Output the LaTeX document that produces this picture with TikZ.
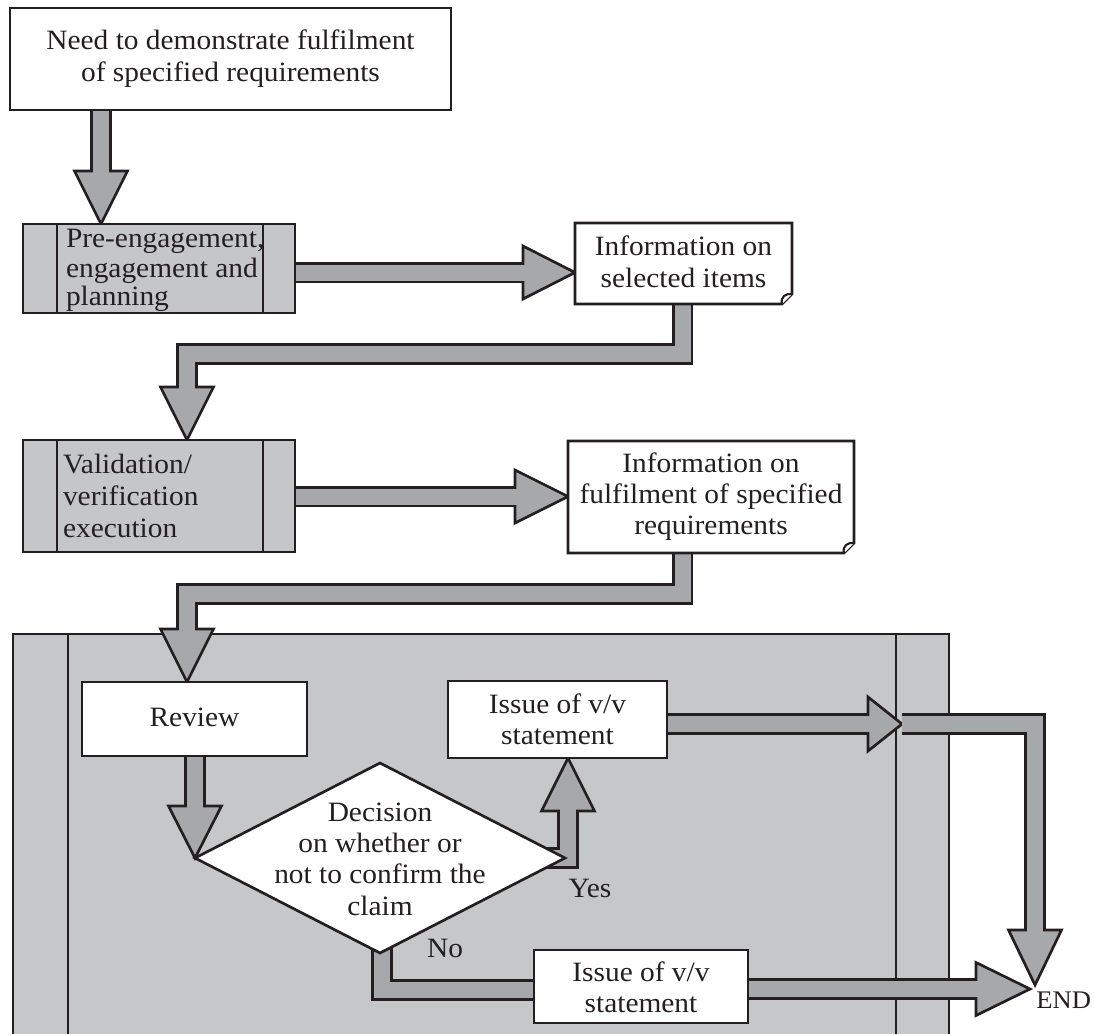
\documentclass[tikz,border=0pt]{standalone}
\usepackage{fontspec}
\setmainfont[FakeStretch=1.05]{Liberation Serif}
\usetikzlibrary{shapes.geometric,calc}
\pgfdeclarelayer{bglayer}
\pgfdeclarelayer{arrlayer}
\pgfsetlayers{bglayer,arrlayer,main}
\definecolor{bordc}{HTML}{231F20}
\definecolor{arrc}{HTML}{A7A8AB}
\definecolor{boxc}{HTML}{C5C6C8}
\definecolor{contc}{HTML}{C6C7C9}
\tikzset{
  every node/.style={inner sep=0pt, outer sep=0pt, text=bordc, font=\fontsize{21}{24}\selectfont},
  boxline/.style={draw=bordc, line width=2pt},
  wbox/.style={boxline, fill=white, rectangle},
  gbox/.style={boxline, fill=boxc, rectangle},
  plainbox/.style={rectangle},
  shout/.style={draw=bordc, line width=16pt},
  shin/.style={draw=arrc, line width=12pt},
  headst/.style={draw=bordc, fill=arrc, line width=2pt, line join=miter},
  txt/.style={anchor=base},
  txtl/.style={anchor=base west}
}
\newcommand\rbox[6]{\node[#1, minimum width={(#5-#3)*0.75pt}, minimum height={(#6-#4)*0.75pt}] (#2) at ({(#3+#5)/2},{(#4+#6)/2}) {};}
\begin{document}
\begin{tikzpicture}[x=0.75pt,y=-0.75pt]
\useasboundingbox (0,0) rectangle (1094,1034);
% ---------- nodes ----------
\rbox{plainbox}{stage}{13}{634}{949}{1034}
\rbox{wbox}{need}{10}{8}{451}{110}
\rbox{gbox}{pre}{23}{224}{295}{313}
\rbox{plainbox}{info1}{575}{223}{792}{304}
\rbox{gbox}{valid}{23}{440}{295}{552}
\rbox{plainbox}{info2}{568}{441}{854}{553}
\rbox{wbox}{review}{82}{682}{307}{756}
\rbox{wbox}{issue1}{448}{681}{667}{758}
\rbox{wbox}{issue2}{534}{950}{748}{1023}
\node[diamond, boxline, fill=white, minimum width=277.5pt, minimum height=142.5pt] (dec) at (380,858) {};
\coordinate (j1) at (902,724);
\coordinate (endA) at (1035,985);
\coordinate (endB) at (1030,989);
% inner lines of process boxes
\draw[boxline] ($(pre.north west)+(34,0)$) -- ($(pre.south west)+(34,0)$);
\draw[boxline] ($(pre.north east)+(-32,0)$) -- ($(pre.south east)+(-32,0)$);
\draw[boxline] ($(valid.north west)+(34,0)$) -- ($(valid.south west)+(34,0)$);
\draw[boxline] ($(valid.north east)+(-32,0)$) -- ($(valid.south east)+(-32,0)$);
% document boxes with folded corner
\foreach \b in {info1,info2}{
  \draw[boxline, fill=white] (\b.north west) -- (\b.north east) -- ($(\b.south east)+(0,-10)$) -- ($(\b.south east)+(-10,0)$) -- (\b.south west) -- cycle;
  \draw[draw=bordc, line width=1.6pt, fill=white] ($(\b.south east)+(-10,0)$) .. controls ($(\b.south east)+(-12,-7)$) and ($(\b.south east)+(-6,-11)$) .. ($(\b.south east)+(0,-10)$);
}
% ---------- background ----------
\begin{pgfonlayer}{bglayer}
\fill[white] (0,0) rectangle (1094,1034);
\fill[contc] (stage.north west) rectangle (stage.south east);
\draw[boxline] (stage.south west) -- (stage.north west) -- (stage.north east) -- (stage.south east);
\draw[boxline] ($(stage.north west)+(55,0)$) -- ($(stage.south west)+(55,0)$);
\draw[boxline] ($(stage.north east)+(-53,0)$) -- ($(stage.south east)+(-53,0)$);
\end{pgfonlayer}
% ---------- block arrows ----------
\begin{pgfonlayer}{arrlayer}
% need -> pre
\draw[shout] (need.south -| 101,0) -- (101,171);
\draw[headst] (pre.north -| 101,0) -- ++(-26.5,-53) -- ++(53,0) -- cycle;
\draw[shin] (need.south -| 101,0) -- (101,174);
% pre -> info1
\draw[shout] (pre.east |- 0,272.5) -- (523,272.5);
\draw[headst] (info1.west |- 0,272.5) -- ++(-52,-26.5) -- ++(0,53) -- cycle;
\draw[shin] (pre.east |- 0,272.5) -- (526,272.5);
% info1 -> valid
\draw[shout] (info1.south -| 682.5,0) -- (682.5,354) -- (187,354) -- (187,387);
\draw[headst] (valid.north -| 187,0) -- ++(-26.5,-53) -- ++(53,0) -- cycle;
\draw[shin] (info1.south -| 682.5,0) -- (682.5,354) -- (187,354) -- (187,390);
% valid -> info2
\draw[shout] (valid.east |- 0,496.5) -- (515,496.5);
\draw[headst] (info2.west |- 0,496.5) -- ++(-53,-26.5) -- ++(0,53) -- cycle;
\draw[shin] (valid.east |- 0,496.5) -- (518,496.5);
% info2 -> review
\draw[shout] (info2.south -| 682.5,0) -- (682.5,594) -- (187,594) -- (187,629);
\draw[headst] (review.north -| 187,0) -- ++(-26.5,-53) -- ++(53,0) -- cycle;
\draw[shin] (info2.south -| 682.5,0) -- (682.5,594) -- (187,594) -- (187,632);
% review -> decision
\draw[shout] (review.south -| dec.west) -- ($(dec.west)+(0,-52)$);
\draw[headst] (dec.west) -- ++(-26.5,-52) -- ++(53,0) -- cycle;
\draw[shin] (review.south -| dec.west) -- ($(dec.west)+(0,-49)$);
% decision -> issue1 (Yes)
\draw[shout] ($(dec.east)+(-30,0)$) -- (dec.east -| 568,0) -- (568,811);
\draw[headst] (issue1.south -| 568,0) -- ++(-26.5,53) -- ++(53,0) -- cycle;
\draw[shin] ($(dec.east)+(-30,0)$) -- (dec.east -| 568,0) -- (568,808);
% issue1 -> junction
\draw[shout] (issue1.east |- j1) -- (868,724);
\draw[headst] (j1) -- ++(-34,-27) -- ++(0,54) -- cycle;
\draw[shin] (issue1.east |- j1) -- (871,724);
% junction -> END
\draw[shout] (j1) -- (1035,724) -- (1035,930);
\draw[shin] (j1) -- (1035,724) -- (1035,933);
\draw[headst] (endA) -- ++(-26.5,-55) -- ++(53,0) -- cycle;
\draw[shin] (1035,900) -- (1035,933);
% decision -> issue2 (No)
\draw[shout] ($(dec.south)+(2,-20)$) -- (382,990) -- (issue2.west |- 0,990);
\draw[shin] ($(dec.south)+(2,-20)$) -- (382,990) -- (issue2.west |- 0,990);
% issue2 -> END
\draw[shout] (issue2.east |- endB) -- (976,989);
\draw[headst] (endB) -- ++(-54,-26.5) -- ++(0,53) -- cycle;
\draw[shin] (issue2.east |- endB) -- (979,989);
\end{pgfonlayer}
% ---------- texts ----------
\node[txt] (t1a) at (230.5,50) {Need to demonstrate fulfilment};
\node[txt] (t1b) at (230.5,82) {of specified requirements};
\node[txtl] (t2a) at (66,247) {Pre-engagement,};
\node[txtl] (t2b) at (66,277) {engagement and};
\node[txtl] (t2c) at (66,305) {planning};
\node[txt] (t3a) at (683.5,255) {Information on};
\node[txt] (t3b) at (683.5,287) {selected items};
\node[txtl] (t4a) at (63,473) {Validation/};
\node[txtl] (t4b) at (63,505) {verification};
\node[txtl] (t4c) at (63,537) {execution};
\node[txt] (t5a) at (711,472) {Information on};
\node[txt] (t5b) at (711,503) {fulfilment of specified};
\node[txt] (t5c) at (711,534) {requirements};
\node[txt] (t6) at (194.5,726) {Review};
\node[txt] (t7a) at (557.5,713) {Issue of v/v};
\node[txt] (t7b) at (557.5,744) {statement};
\node[txt] (t8a) at (641,981) {Issue of v/v};
\node[txt] (t8b) at (641,1012) {statement};
\node[txt] (t9a) at (380,821) {Decision};
\node[txt] (t9b) at (380,852) {on whether or};
\node[txt] (t9c) at (380,883) {not to confirm the};
\node[txt] (t9d) at (380,915) {claim};
\node[txt] (yes) at (590,897) {Yes};
\node[txt] (no) at (445,957) {No};
\node[anchor=base east, font=\fontsize{19}{24}\selectfont] (endlbl) at (1091,1008) {END};
\end{tikzpicture}
\end{document}
